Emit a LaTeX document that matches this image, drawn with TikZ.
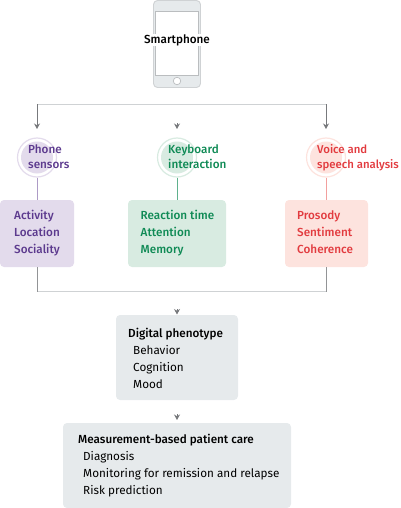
\documentclass[tikz,border=0pt]{standalone}
\usepackage{fontspec}
\setmainfont[BoldFont={Fira Sans Medium}]{Fira Sans}
\usetikzlibrary{arrows.meta,positioning,calc}
\definecolor{ringpurple}{HTML}{E3DBEC}
\definecolor{textpurple}{HTML}{5C3A8E}
\definecolor{ringgreen}{HTML}{D8EBE1}
\definecolor{textgreen}{HTML}{0F8A55}
\definecolor{ringred}{HTML}{FDE3DE}
\definecolor{textred}{HTML}{E23B3F}
\definecolor{boxgrey}{HTML}{E6EAEC}
\definecolor{linegrey}{HTML}{CFD2D4}
\definecolor{tipgrey}{HTML}{77797C}
\tikzset{
    lbl/.style={font=\fontsize{11.7}{17}\selectfont, align=left, inner sep=0pt},
    tight/.style={font=\fontsize{#1}{15.5}\selectfont\bfseries},
    metricbox/.style={rounded corners=4pt, inner sep=0pt},
    sensor/.style={circle, minimum size=39pt, inner sep=0pt, fill=white, line width=1.2pt},
    link/.style={line width=0.9pt, draw=linegrey},
    stem/.style={line width=0.9pt, draw=tipgrey!80},
    tip/.style={-{Stealth[length=5.5pt,width=6pt]}, line width=0.9pt, draw=tipgrey, color=tipgrey},
}
\begin{document}
\begin{tikzpicture}[x=1pt, y=-1pt]
    \useasboundingbox (0, 0) rectangle (400, 508);

    % phone
    \draw[linegrey, fill=boxgrey, line width=0.9pt, rounded corners=4pt] (153.5, 0.5) rectangle (200.5, 87.5);
    \draw[linegrey!90!black, fill=white, line width=0.7pt] (155.5, 11.5) rectangle (198.5, 75.5);
    \node[circle, draw=linegrey!90!black, fill=white, line width=0.7pt, minimum size=7.5pt, inner sep=0pt] (home) at (177, 81) {};
    \node[fill=white, inner sep=0.5pt, font=\fontsize{11.7}{14}\selectfont\bfseries] (phone) at (177, 40) {Smartphone};

    % sensors
    \node[sensor, draw=ringpurple] (sensA) at (37, 157.5) {};
    \node[sensor, draw=ringgreen] (sensB) at (177, 157.5) {};
    \node[sensor, draw=ringred] (sensC) at (326, 157.5) {};
    \fill[ringpurple] (37, 157.5) circle (16);
    \fill[ringgreen] (177, 157.5) circle (16);
    \fill[ringred] (326, 157.5) circle (16);

    \node[lbl, tight=11.7, textpurple, anchor=north west] (sensAtxt) at (28, 144) {Phone\\sensors};
    \node[lbl, tight=11.7, textgreen, anchor=north west] (sensBtxt) at (168, 144) {Keyboard\\interaction};
    \node[lbl, tight=11.4, textred, anchor=north west] (sensCtxt) at (317, 144) {Voice and\\speech analysis};

    % measures
    \node[metricbox, fill=ringpurple, minimum width=74pt, minimum height=67pt] (actbox) at (37, 233.5) {};
    \node[metricbox, fill=ringgreen, minimum width=98pt, minimum height=67pt] (reactbox) at (177, 233.5) {};
    \node[metricbox, fill=ringred, minimum width=83pt, minimum height=67pt] (prosbox) at (326.5, 233.5) {};
    \node[lbl, textpurple, anchor=north west] (acttxt) at (14, 210) {\bfseries Activity\\\bfseries Location\\\bfseries Sociality};
    \node[lbl, textgreen, anchor=north west] (reacttxt) at (140.5, 210) {\bfseries Reaction time\\\bfseries Attention\\\bfseries Memory};
    \node[lbl, textred, anchor=north west] (prostxt) at (297, 210) {\bfseries Prosody\\\bfseries Sentiment\\\bfseries Coherence};

    % results
    \node[metricbox, fill=boxgrey, minimum width=122pt, minimum height=85pt] (digital) at (177, 357.5) {};
    \node[lbl, anchor=north west] (digitaltxt) at (128, 328) {\textbf{Digital phenotype}\\\hspace{5pt}Behavior\\\hspace{5pt}Cognition\\\hspace{5pt}Mood};
    \node[metricbox, fill=boxgrey, minimum width=228pt, minimum height=85pt] (care) at (177, 465.5) {};
    \node[lbl, anchor=north west] (caretxt) at (78, 434) {\textbf{Measurement-based patient care}\\\hspace{5pt}Diagnosis\\\hspace{5pt}Monitoring for remission and relapse\\\hspace{5pt}Risk prediction};

    % connectors
    \coordinate (topL) at (37, 104.5);
    \coordinate (topM) at (177, 123);
    \coordinate (topR) at (326, 104.5);
    \coordinate (botL) at (37, 291.5);
    \coordinate (botR) at (326, 291.5);
    \coordinate (midA) at (177, 309);
    \coordinate (midB) at (177, 414);
    \draw[link] (topL) -- (topR);
    \draw[tip] (topL) -- (sensA.north |- 0, 129);
    \draw[tip] (topR) -- (sensC.north |- 0, 129);
    \draw[tip] (topM) -- (sensB.north |- 0, 129);

    \draw[ringpurple!60!textpurple, line width=0.9pt] (sensA) -- (actbox);
    \draw[ringgreen!40!textgreen, line width=0.9pt] (sensB) -- (reactbox);
    \draw[ringred!60!textred, line width=0.9pt] (sensC) -- (prosbox.north -| sensC);

    \draw[link] (botL) -- (botR);
    \draw[stem] (actbox.south -| botL) -- (botL);
    \draw[stem] (prosbox.south -| botR) -- (botR);
    \draw[tip] (midA) -- (digital.north |- 0, 314.5);
    \draw[tip] (midB) -- (care.north |- 0, 420);
\end{tikzpicture}
\end{document}
